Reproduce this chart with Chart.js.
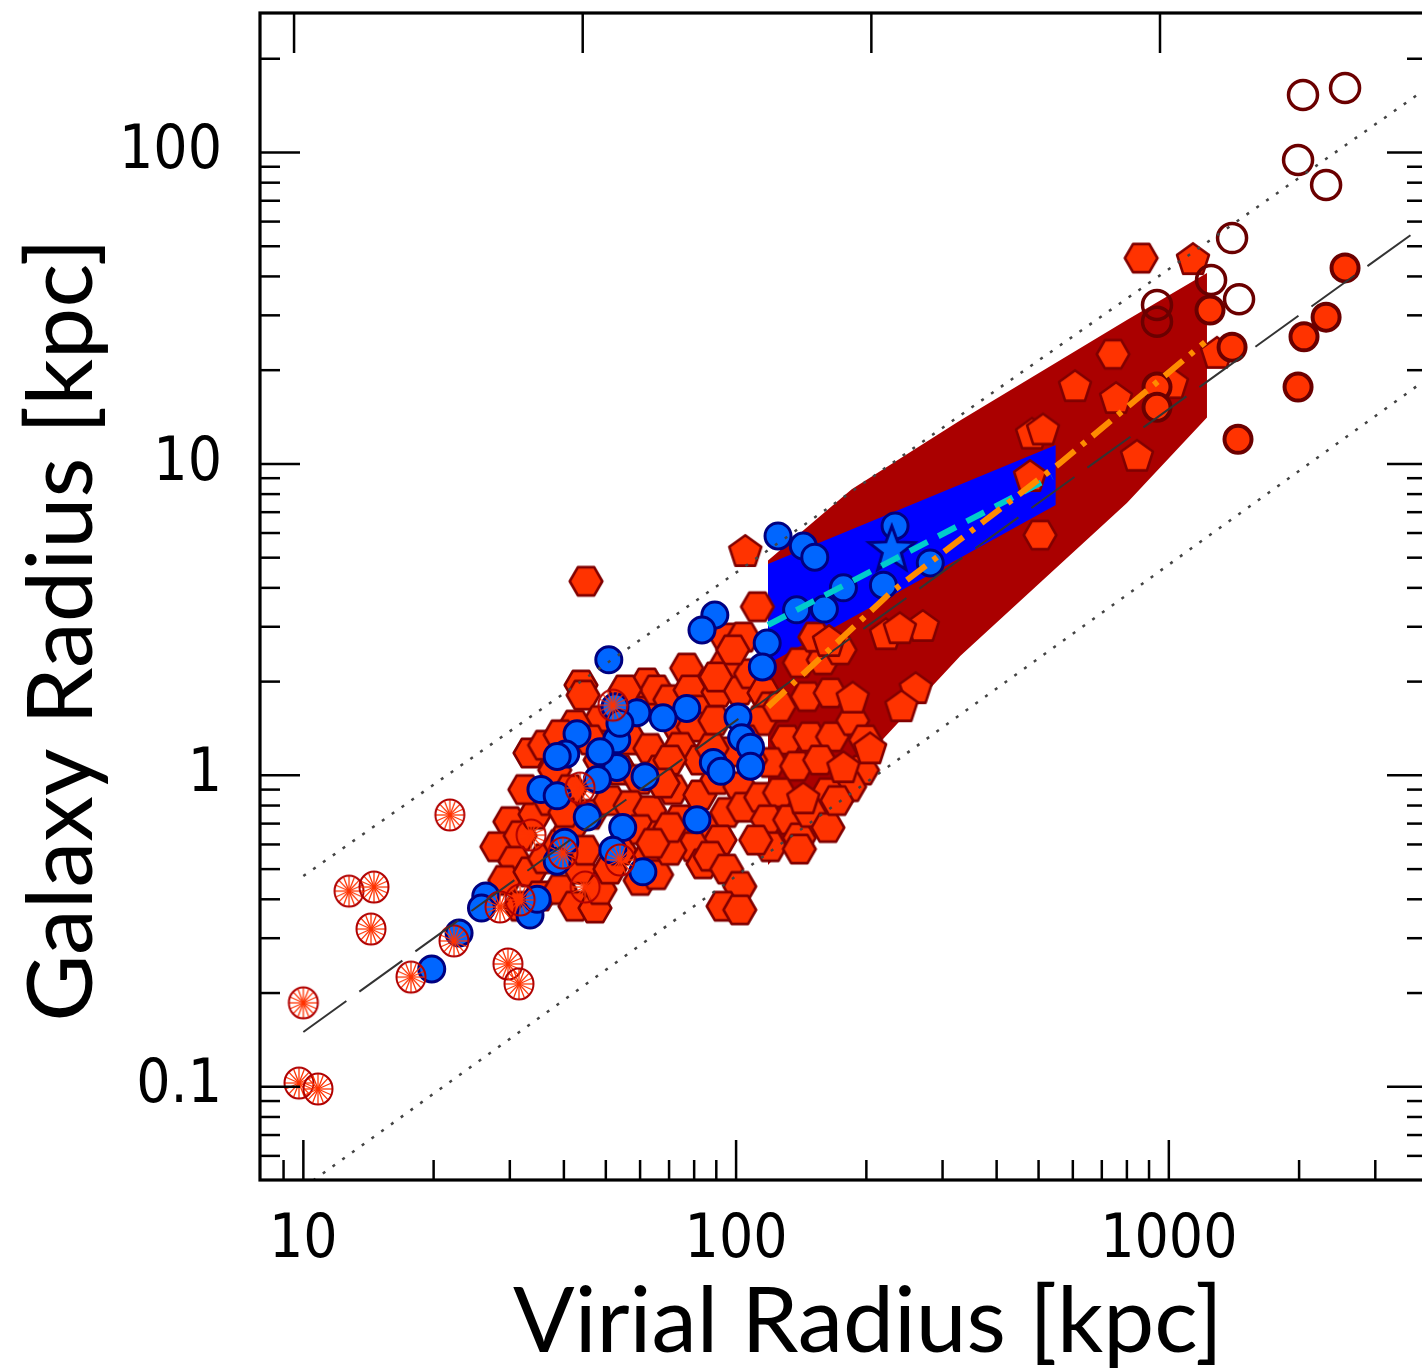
<!DOCTYPE html>
<html>
<head>
<meta charset="utf-8">
<title>Galaxy Radius vs Virial Radius</title>
<script src="https://cdn.jsdelivr.net/npm/chart.js@4.4.1/dist/chart.umd.min.js"></script>
<style>
html,body{margin:0;padding:0;background:#ffffff;overflow:hidden;}
#wrap{position:relative;width:1432px;height:1372px;}
canvas{display:block;}
</style>
</head>
<body>
<div id="wrap"><canvas id="chart" width="1432" height="1372"></canvas></div>
<script>
// ---------------- axis definitions ----------------
const xTitle = 'Virial Radius [kpc]';
const yTitle = 'Galaxy Radius [kpc]';
const xMin = 7.94, xMax = 3950;
const yMin = 0.0502, yMax = 280.5;
const xMajor = [10, 100, 1000];
const xTickLabels = ['10', '100', '1000'];
const xMinor = [9, 20, 30, 40, 50, 60, 70, 80, 90, 200, 300, 400, 500, 600, 700, 800, 900, 2000, 3000];
const yMajor = [0.1, 1, 10, 100];
const yTickLabels = ['0.1', '1', '10', '100'];
const yMinor = [0.06, 0.07, 0.08, 0.09, 0.2, 0.3, 0.4, 0.5, 0.6, 0.7, 0.8, 0.9,
                2, 3, 4, 5, 6, 7, 8, 9, 20, 30, 40, 50, 60, 70, 80, 90, 200];
const topMin = 7.764, topMax = 15.85;
const topTicks = [8, 10, 12, 14];

// ---------------- data: hexagons ----------------
const hexR = [
 33.4, 36.1, 30.0, 28.0, 31.7, 34.3, 37.1, 30.8, 29.2, 33.4,
 36.1, 39.2, 35.2, 39.2, 42.4, 47.2, 48.5, 43.6, 41.3, 38.1,
 41.3, 46.0, 40.2, 44.8, 51.1, 53.9, 43.8, 44.3, 48.5, 53.9,
 60.0, 62.2, 65.5, 51.1, 56.9, 63.2, 48.5, 53.9, 60.0, 66.7,
 51.1, 56.9, 63.2, 60.0, 66.7, 63.2, 60.0, 65.5, 45.0, 76.9,
 70.3, 78.3, 82.5, 90.8, 102, 95.1, 108, 95.1, 104, 112,
 98.3, 89.8, 74.2, 79.6, 89.3, 74.2, 82.5, 70.3, 71.4, 82.5,
 90.3, 102, 67.8, 74.2, 83.8, 95.1, 104, 91.8, 79.6, 70.3,
 83.8, 87.0, 95.1, 102, 93.3, 102, 70.3, 64.2, 116, 120,
 114, 126, 131, 120, 138, 114, 126, 118, 133, 120,
 140, 111, 108, 105, 140, 159, 152, 174, 146, 165,
 148, 167, 186, 156, 196, 183, 163, 148, 163, 140,
 171, 199, 96.8, 88.0, 42.4, 39.2, 46.0, 32.5, 31.7, 55.4,
 863, 743, 504
];
const hexRg = [
 1.18, 1.25, 0.71, 0.59, 0.64, 0.75, 0.83, 0.53, 0.46, 0.49,
 0.54, 0.60, 0.41, 0.43, 0.38, 0.375, 0.43, 0.50, 0.67, 1.04,
 0.90, 0.75, 0.76, 0.575, 0.50, 0.575, 1.95, 1.81, 1.50, 1.60,
 1.68, 1.98, 1.88, 1.25, 1.30, 1.22, 1.12, 1.04, 0.97, 1.04,
 0.83, 0.80, 0.77, 0.67, 0.64, 0.555, 0.46, 0.48, 4.2, 2.21,
 1.75, 1.88, 1.62, 1.85, 1.88, 2.30, 2.12, 2.76, 2.78, 3.48,
 2.53, 2.07, 1.40, 1.43, 1.50, 1.23, 1.12, 1.12, 0.90, 0.865,
 0.97, 0.92, 0.945, 0.72, 0.68, 0.76, 0.79, 0.62, 0.59, 0.575,
 0.52, 0.55, 0.50, 0.44, 0.38, 0.37, 0.68, 0.605, 1.84, 1.66,
 1.50, 1.66, 1.30, 1.10, 1.07, 0.85, 0.88, 0.72, 0.72, 0.59,
 0.63, 0.62, 1.12, 1.30, 2.30, 2.35, 2.78, 2.53, 1.79, 1.84,
 1.33, 1.33, 1.50, 1.12, 1.04, 0.92, 0.88, 0.76, 0.68, 0.58,
 0.83, 1.30, 1.19, 1.22, 1.45, 1.35, 1.30, 0.90, 0.38, 1.88,
 45.8, 22.5, 5.91
];

// ---------------- data: pentagons ----------------
const pentR  = [105, 1137, 755, 1017, 844, 1292, 607, 483, 512, 478, 270, 222, 239, 260, 241, 143, 164, 186, 204, 177];
const pentRg = [5.29, 45.8, 16.4, 18.3, 10.7, 22.9, 17.9, 12.6, 13.0, 9.21, 3.04, 2.86, 2.99, 1.92, 1.68, 0.85, 2.72, 1.79, 1.23, 1.07];

// ---------------- data: filled red circles ----------------
const fullR  = [1245, 1400, 1445, 1989, 2053, 2309, 2554, 939, 939];
const fullRg = [31.2, 23.7, 12.0, 17.66, 25.6, 29.6, 42.6, 17.66, 15.2];

// ---------------- data: open circles ----------------
const openR  = [2042, 2554, 1989, 2309, 1400, 1252, 1453, 939, 939];
const openRg = [153, 161, 94.6, 78.6, 53.1, 38.95, 33.8, 32.4, 28.6];

// ---------------- data: dwarfs (asterisk circles) ----------------
const dwarfR  = [21.8, 12.75, 14.56, 14.33, 10.0, 9.77, 10.81, 17.73, 22.29, 29.7, 31.5, 28.47, 31.7, 43.6, 33.6, 39.8, 53.9, 44.8, 51.9];
const dwarfRg = [0.746, 0.425, 0.438, 0.321, 0.186, 0.1028, 0.0984, 0.225, 0.294, 0.248, 0.214, 0.378, 0.398, 0.91, 0.643, 0.563, 0.535, 0.438, 1.68];

// ---------------- data: blue circles ----------------
const blueR = [
 125, 143, 152, 233, 219, 281, 177, 160, 138, 118,
 115, 89.3, 83.4, 50.8, 76.9, 67.8, 59.0, 52.5, 101, 103,
 108, 88.6, 92.3, 108, 81.2, 61.6, 53.0, 53.0, 48.5, 42.9,
 40.4, 38.6, 35.4, 38.6, 47.8, 45.3, 54.7, 40.2, 51.9, 60.9,
 38.6, 33.4, 34.7, 26.4, 25.8, 22.9, 19.8, 53.9
];
const blueRg = [
 5.87, 5.45, 5.02, 6.32, 4.08, 4.81, 4.00, 3.42, 3.40, 2.66,
 2.23, 3.27, 2.93, 2.35, 1.64, 1.53, 1.59, 1.66, 1.54, 1.32,
 1.23, 1.10, 1.03, 1.07, 0.72, 0.99, 1.30, 1.06, 1.19, 1.36,
 1.17, 1.15, 0.90, 0.86, 0.97, 0.735, 0.68, 0.61, 0.575, 0.49,
 0.53, 0.356, 0.40, 0.41, 0.375, 0.312, 0.239, 1.47
];

// ---------------- data: Milky Way star ----------------
const starR = [229];
const starRg = [5.37];

// ---------------- data: bands ----------------
const redBandR     = [118.5, 185, 330, 800, 1225];
const redBandUpper = [4.9, 8.3, 13.8, 29, 41];
const redBandLower = [0.515, 1.02, 2.42, 7.49, 14.1];
const blueBandR     = [118.5, 548];
const blueBandUpper = [4.77, 11.5];
const blueBandLower = [2.28, 7.38];

// ---------------- data: lines ----------------
const cyanR  = [118.5, 537];
const cyanRg = [3.04, 9.08];
const orangeR  = [118.5, 227, 561, 1212];
const orangeRg = [1.66, 3.85, 10.07, 24.6];
const relR    = [10, 4000];
const relMid  = [0.15, 60];
const relHigh = [0.475, 163];
const relLow  = [0.0475, 19];

// ---------------- marker images ----------------
function makeMarker(size, draw) {
  const c = document.createElement('canvas');
  c.width = size; c.height = size;
  const g = c.getContext('2d');
  draw(g, size / 2);
  return c;
}
const hexImg = makeMarker(40, (g, c) => {
  g.beginPath();
  for (let k = 0; k < 6; k++) { const a = k * Math.PI / 3; g.lineTo(c + 16.3 * Math.cos(a), c + 16.3 * Math.sin(a)); }
  g.closePath();
  g.fillStyle = '#FF3300'; g.fill();
  g.lineWidth = 2.6; g.strokeStyle = '#800000'; g.lineJoin = 'round'; g.stroke();
});
const pentImg = makeMarker(40, (g, c) => {
  g.beginPath();
  for (let k = 0; k < 5; k++) { const a = -Math.PI / 2 + k * 2 * Math.PI / 5; g.lineTo(c + 16.8 * Math.cos(a), c + 2 + 16.8 * Math.sin(a)); }
  g.closePath();
  g.fillStyle = '#FF3300'; g.fill();
  g.lineWidth = 2.6; g.strokeStyle = '#800000'; g.lineJoin = 'round'; g.stroke();
});
const starImg = makeMarker(58, (g, c) => {
  g.beginPath();
  for (let k = 0; k < 10; k++) {
    const a = -Math.PI / 2 + k * Math.PI / 5;
    const r = (k % 2 === 0) ? 24 : 10;
    g.lineTo(c + r * Math.cos(a), c + 2 + r * Math.sin(a));
  }
  g.closePath();
  g.fillStyle = '#0066FF'; g.fill();
  g.lineWidth = 3; g.strokeStyle = '#000080'; g.lineJoin = 'miter'; g.stroke();
});
const dwarfImg = makeMarker(38, (g, c) => {
  g.strokeStyle = '#FF3300'; g.lineWidth = 1.3;
  for (let k = 0; k < 16; k++) {
    const a = k * Math.PI / 8;
    g.beginPath(); g.moveTo(c, c); g.lineTo(c + 14 * Math.cos(a), c + 15 * Math.sin(a)); g.stroke();
  }
  g.beginPath(); g.ellipse(c, c, 14.5, 15.5, 0, 0, 2 * Math.PI);
  g.lineWidth = 2; g.strokeStyle = '#B00000'; g.stroke();
});

// ---------------- helpers ----------------
const pts = (xs, ys) => xs.map((x, i) => ({ x: x, y: ys[i] }));
const pointSet = (label, xs, ys, opts, order) => Object.assign({
  label: label, data: pts(xs, ys), showLine: false, order: order,
  pointRadius: 15, pointHoverRadius: 15
}, opts);
const lineSet = (label, xs, ys, color, width, dash, order) => ({
  label: label, data: pts(xs, ys), showLine: true, order: order, fill: false,
  borderColor: color, borderWidth: width, borderDash: dash, borderCapStyle: 'butt',
  pointRadius: 0, pointHoverRadius: 0, tension: 0, clip: 0
});
const noPad = s => { s.paddingTop = 0; s.paddingBottom = 0; s.paddingLeft = 0; s.paddingRight = 0; };

// ---------------- frame / ticks / titles plugin ----------------
const framePlugin = {
  id: 'frame',
  afterDatasetsDraw(chart) {
    const { ctx, chartArea: a, scales } = chart;
    const sx = scales.x, sy = scales.y, st = scales.x2;
    ctx.save();
    ctx.strokeStyle = '#000';
    ctx.lineCap = 'butt';
    ctx.lineWidth = 2.5;
    const seg = (x1, y1, x2, y2) => { ctx.beginPath(); ctx.moveTo(x1, y1); ctx.lineTo(x2, y2); ctx.stroke(); };
    xMajor.forEach(v => { const p = sx.getPixelForValue(v); seg(p, a.bottom, p, a.bottom - 40); });
    xMinor.forEach(v => { const p = sx.getPixelForValue(v); seg(p, a.bottom, p, a.bottom - 20); });
    topTicks.forEach(v => { const p = st.getPixelForValue(v); seg(p, a.top, p, a.top + 40); });
    yMajor.forEach(v => { const p = sy.getPixelForValue(v); seg(a.left, p, a.left + 40, p); seg(a.right, p, a.right - 40, p); });
    yMinor.forEach(v => { const p = sy.getPixelForValue(v); seg(a.left, p, a.left + 20, p); seg(a.right, p, a.right - 20, p); });
    ctx.lineWidth = 3.2;
    ctx.strokeRect(a.left, a.top, a.right - a.left, a.bottom - a.top);
    // axis titles
    ctx.fillStyle = '#000';
    ctx.textAlign = 'center';
    ctx.textBaseline = 'alphabetic';
    ctx.font = '400 91px Lato, "Open Sans", sans-serif';
    ctx.fillText(xTitle, 868, 1352);
    ctx.font = '400 92px Lato, "Open Sans", sans-serif';
    ctx.translate(92, 630);
    ctx.rotate(-Math.PI / 2);
    ctx.fillText(yTitle, 0, 0);
    ctx.restore();
  }
};

const tickFont = { family: "'DejaVu Sans Condensed', 'DejaVu Sans', sans-serif", size: 60, weight: '200' };

const chart = new Chart(document.getElementById('chart'), {
  type: 'line',
  data: {
    datasets: [
      { label: 'band red upper', data: pts(redBandR, redBandUpper), showLine: true, order: 101,
        borderWidth: 0, borderColor: 'rgba(0,0,0,0)', backgroundColor: '#AA0000', fill: '+1', pointRadius: 0, tension: 0 },
      { label: 'band red lower', data: pts(redBandR, redBandLower), showLine: true, order: 100,
        borderWidth: 0, borderColor: 'rgba(0,0,0,0)', fill: false, pointRadius: 0, tension: 0 },
      { label: 'band blue upper', data: pts(blueBandR, blueBandUpper), showLine: true, order: 91,
        borderWidth: 0, borderColor: 'rgba(0,0,0,0)', backgroundColor: '#0000FF', fill: '+1', pointRadius: 0, tension: 0 },
      { label: 'band blue lower', data: pts(blueBandR, blueBandLower), showLine: true, order: 90,
        borderWidth: 0, borderColor: 'rgba(0,0,0,0)', fill: false, pointRadius: 0, tension: 0 },
      pointSet('hexagons', hexR, hexRg, { pointStyle: hexImg }, 80),
      pointSet('pentagons', pentR, pentRg, { pointStyle: pentImg }, 79),
      pointSet('filled circles', fullR, fullRg, { pointStyle: 'circle', pointRadius: 13.5, pointHoverRadius: 13.5,
        pointBackgroundColor: '#FF3300', pointBorderColor: '#6B0000', pointBorderWidth: 4 }, 78),
      pointSet('open circles', openR, openRg, { pointStyle: 'circle', pointRadius: 14.5, pointHoverRadius: 14.5,
        pointBackgroundColor: 'rgba(0,0,0,0)', pointBorderColor: '#6B0000', pointBorderWidth: 3.5 }, 77),
      pointSet('blue circles', blueR, blueRg, { pointStyle: 'circle', pointRadius: 13, pointHoverRadius: 13,
        pointBackgroundColor: '#0066FF', pointBorderColor: '#000080', pointBorderWidth: 3 }, 70),
      pointSet('star', starR, starRg, { pointStyle: starImg }, 69),
      pointSet('dwarfs', dwarfR, dwarfRg, { pointStyle: dwarfImg }, 68),
      lineSet('r = 0.015 R', relR, relMid, '#333333', 2, [53, 16], 12),
      lineSet('upper', relR, relHigh, '#444444', 2.5, [3, 9], 11),
      lineSet('lower', relR, relLow, '#444444', 2.5, [3, 9], 11),
      lineSet('cyan', cyanR, cyanRg, '#00CCCC', 6, [20, 12], 9),
      lineSet('orange', orangeR, orangeRg, '#FF8C00', 6, [24, 9, 5, 9], 8)
    ]
  },
  options: {
    responsive: false,
    devicePixelRatio: 1,
    animation: false,
    events: [],
    layout: { autoPadding: false, padding: { left: 0, right: 5, top: 0, bottom: 0 } },
    plugins: { legend: { display: false }, tooltip: { enabled: false }, title: { display: false } },
    scales: {
      x: {
        type: 'logarithmic', position: 'bottom', min: xMin, max: xMax,
        grid: { display: false, drawTicks: false }, border: { display: false },
        afterBuildTicks: s => { s.ticks = xMajor.map(v => ({ value: v })); },
        afterFit: s => { s.height = 192; noPad(s); },
        ticks: { autoSkip: false, maxRotation: 0, color: '#000', padding: 25, font: tickFont,
          callback: v => { const i = xMajor.indexOf(v); return i >= 0 ? xTickLabels[i] : ''; } }
      },
      x2: {
        type: 'linear', position: 'top', min: topMin, max: topMax,
        grid: { display: false, drawTicks: false }, border: { display: false },
        ticks: { display: false },
        afterFit: s => { s.height = 13; noPad(s); }
      },
      y: {
        type: 'logarithmic', position: 'left', min: yMin, max: yMax,
        grid: { display: false, drawTicks: false }, border: { display: false },
        afterBuildTicks: s => { s.ticks = yMajor.map(v => ({ value: v })); },
        afterFit: s => { s.width = 260; noPad(s); },
        ticks: { autoSkip: false, color: '#000', padding: 38, font: tickFont,
          callback: v => { const i = yMajor.indexOf(v); return i >= 0 ? yTickLabels[i] : ''; } }
      }
    }
  },
  plugins: [framePlugin]
});
</script>
</body>
</html>
